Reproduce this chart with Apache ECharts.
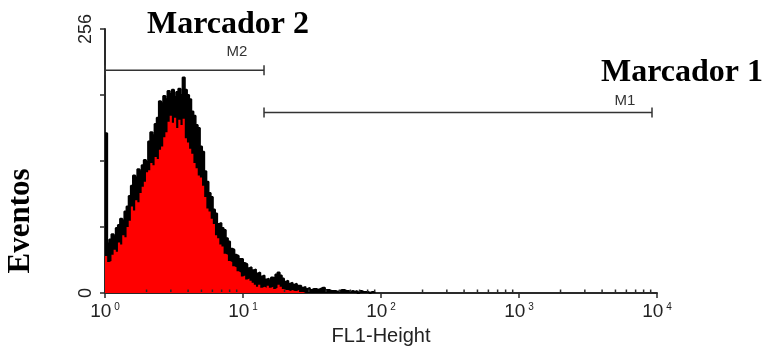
<!DOCTYPE html>
<html><head><meta charset="utf-8">
<script src="https://cdn.jsdelivr.net/npm/echarts@6/dist/echarts.min.js"></script>
<style>html,body{margin:0;padding:0;background:#fff}#c{width:763px;height:347px}</style>
</head><body><div id="c"></div>
<script>
// ---- data ----
const decadeExponents = ['0', '1', '2', '3', '4'];
const yTickLabels = { 0: '0', 256: '256' };
const channelsPerDecade = 64;
// black histogram (counts per channel, channel 0 starts at 10^0)
const blackCounts = [155, 48, 52, 57, 55, 63, 66, 72, 70, 79, 84, 94, 104, 114, 112, 120, 118, 124, 129, 127,
  147, 156, 153, 164, 170, 186, 184, 191, 188, 196, 193, 197, 190, 195, 198, 192, 209, 197, 192, 188,
  176, 172, 163, 160, 142, 137, 118, 108, 97, 93, 81, 77, 67, 68, 63, 61, 53, 50, 43, 42,
  37, 36, 33, 33, 29, 28, 24, 25, 22, 23, 19, 20, 16, 17, 13, 14, 12, 15, 14, 18,
  20, 17, 14, 11, 12, 9, 10, 8, 9, 7, 7, 5, 6, 4, 5, 3, 4, 4, 3, 4,
  5, 5, 3, 3, 2, 2, 2, 1, 2, 3, 3, 2, 2, 1, 2, 1, 2, 0, 2, 1, 1, 1, 0, 1, 1];
// red histogram
const redCounts = [36, 30, 31, 37, 42, 40, 49, 47, 56, 54, 64, 70, 84, 80, 90, 88, 97, 103, 108, 117,
  119, 126, 124, 132, 130, 139, 142, 151, 156, 166, 172, 165, 170, 160, 168, 163, 169, 150, 146, 140,
  135, 126, 121, 114, 112, 104, 93, 82, 79, 72, 67, 56, 53, 47, 45, 38, 37, 31, 30, 26,
  25, 21, 20, 16, 17, 13, 14, 12, 10, 8, 6, 8, 5, 6, 5, 7, 5, 6, 4, 5,
  8, 6, 4, 3, 3, 2, 3, 2, 2, 3, 1, 1, 1];
// markers (FL1 linear units)
const markerNames = ['M2', 'M1'];
const markerStart = [1, 14.2];
const markerEnd = [14.2, 9200];
const markerLevel = [216, 175];

// ---- build ----
const lg = Math.log10;
function steps(counts) {
  const pts = counts.map((c, i) => [i / channelsPerDecade, c]);
  pts.push([counts.length / channelsPerDecade, 0]);
  return pts;
}
const minorTicks = [];
for (let d = 0; d < 4; d++) for (let k = 2; k <= 9; k++) minorTicks.push([d + lg(k)]);
const markerData = markerNames.map((n, i) => [lg(markerStart[i]), lg(markerEnd[i]), markerLevel[i], i]);
const labelRise = [18, 12];

const chart = echarts.init(document.getElementById('c'), null, { renderer: 'canvas' });
const axisColor = '#2a2a2a';
chart.setOption({
  animation: false,
  backgroundColor: '#fff',
  grid: { left: 105, right: 106, top: 29, bottom: 54, containLabel: false, outerBoundsMode: 'none' },
  xAxis: {
    type: 'value', min: 0, max: 4, interval: 1,
    name: 'FL1-Height', nameLocation: 'middle', nameGap: 32,
    nameTextStyle: { fontFamily: 'Liberation Sans', fontSize: 20, color: '#222' },
    axisLine: { lineStyle: { color: axisColor, width: 2 } },
    axisTick: { length: 5, lineStyle: { color: axisColor, width: 1.5 } },
    splitLine: { show: false },
    axisLabel: {
      margin: 9,
      formatter: v => '{b|10}{s|' + decadeExponents[Math.round(v)] + '}',
      rich: {
        b: { fontFamily: 'Liberation Sans', fontSize: 19, color: '#222', lineHeight: 20 },
        s: { fontFamily: 'Liberation Sans', fontSize: 10, color: '#222', verticalAlign: 'top', padding: [0, 0, 0, 3], lineHeight: 9 }
      }
    }
  },
  yAxis: {
    type: 'value', min: 0, max: 256, interval: 64,
    axisLine: { show: true, lineStyle: { color: axisColor, width: 2 } },
    axisTick: { show: true, length: 5, lineStyle: { color: axisColor, width: 1.5 } },
    splitLine: { show: false },
    axisLabel: {
      rotate: 90, margin: 10,
      fontFamily: 'Liberation Sans', fontSize: 18, color: '#222',
      formatter: v => yTickLabels[v] || ''
    }
  },
  graphic: [
    { type: 'text', x: 147, y: 25, style: { text: 'Marcador 2', font: 'bold 32px "Liberation Serif"', fill: '#000', verticalAlign: 'middle' } },
    { type: 'text', x: 601, y: 73, style: { text: 'Marcador 1', font: 'bold 32px "Liberation Serif"', fill: '#000', verticalAlign: 'middle' } },
    { type: 'text', x: 21, y: 221, rotation: Math.PI / 2, style: { text: 'Eventos', font: 'bold 31px "Liberation Serif"', fill: '#000', align: 'center', verticalAlign: 'middle' } }
  ],
  series: [
    {
      type: 'line', step: 'end', data: steps(blackCounts), showSymbol: false, symbol: 'none',
      lineStyle: { color: '#000', width: 2 }, areaStyle: { color: '#000', opacity: 1 }, z: 2
    },
    {
      type: 'line', step: 'end', data: steps(redCounts), showSymbol: false, symbol: 'none',
      lineStyle: { width: 0, color: '#ff0000' }, areaStyle: { color: '#ff0000', opacity: 1 }, z: 3
    },
    {
      type: 'custom', data: minorTicks, z: 5, silent: true,
      renderItem: (p, api) => {
        const pt = api.coord([api.value(0), 0]);
        return { type: 'line', shape: { x1: pt[0], y1: pt[1] - 1, x2: pt[0], y2: pt[1] - 3.5 }, style: { stroke: axisColor, lineWidth: 1.5 } };
      }
    },
    {
      type: 'custom', data: markerData, z: 6, silent: true,
      renderItem: (p, api) => {
        const a = api.coord([api.value(0), api.value(2)]);
        const b = api.coord([api.value(1), api.value(2)]);
        const idx = api.value(3);
        const st = { stroke: '#333', lineWidth: 1.5 };
        return {
          type: 'group', children: [
            { type: 'line', shape: { x1: a[0], y1: a[1], x2: b[0], y2: b[1] }, style: st },
            { type: 'line', shape: { x1: a[0], y1: a[1] - 5, x2: a[0], y2: a[1] + 5 }, style: st },
            { type: 'line', shape: { x1: b[0], y1: b[1] - 5, x2: b[0], y2: b[1] + 5 }, style: st },
            { type: 'text', x: b[0] - 27, y: b[1] - labelRise[idx], style: { text: markerNames[idx], font: '15px "Liberation Sans"', fill: '#333', align: 'center', verticalAlign: 'middle' } }
          ]
        };
      }
    }
  ]
});
</script></body></html>
